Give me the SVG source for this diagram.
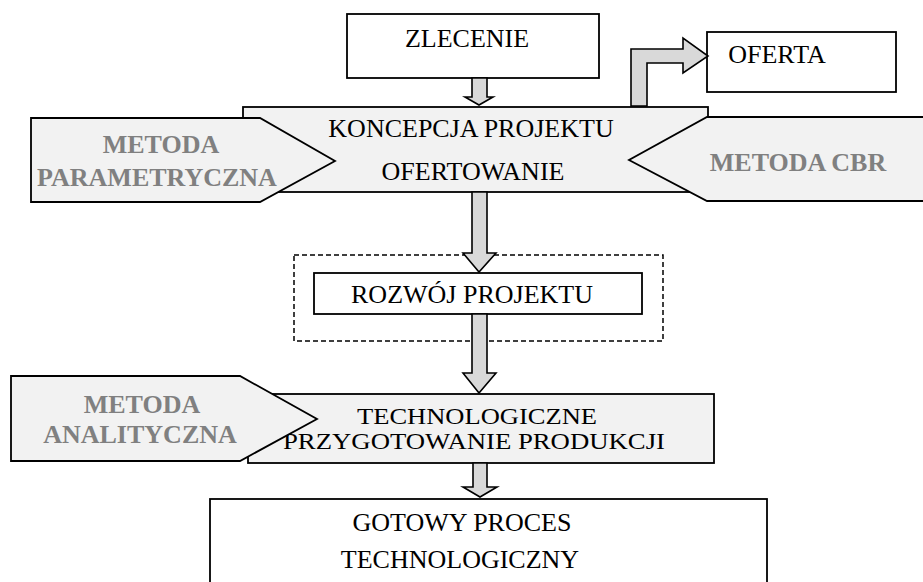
<svg xmlns="http://www.w3.org/2000/svg" width="923" height="582" viewBox="0 0 923 582">
<style>
.box{fill:#ffffff;stroke:#000;stroke-width:1.8}
.gbox{fill:#f2f2f2;stroke:#000;stroke-width:1.8}
.dash{fill:none;stroke:#000;stroke-width:1.5;stroke-dasharray:5,3}
.arr{fill:#d9d9d9;stroke:#000;stroke-width:1.6;stroke-linejoin:miter}
.t{font-family:"Liberation Serif","Times New Roman",serif;font-size:26px;fill:#000;text-anchor:middle}
.s{font-size:24px}
.m{font-family:"Liberation Serif","Times New Roman",serif;font-size:26px;font-weight:bold;fill:#808080;text-anchor:middle}
</style>
<rect width="923" height="582" fill="#ffffff"/>
<g id="zlecenie">
<rect class="box" x="347" y="14" width="252" height="64"/>
<text class="t" x="467" y="47">ZLECENIE</text>
</g>
<g id="oferta">
<rect class="box" x="707" y="32" width="189" height="60"/>
<text class="t" x="777" y="63">OFERTA</text>
</g>
<g id="koncepcja">
<rect class="gbox" x="243" y="107" width="465" height="85"/>
<text class="t" x="471" y="137">KONCEPCJA PROJEKTU</text>
<text class="t" x="473" y="180">OFERTOWANIE</text>
</g>
<g id="metoda-parametryczna">
<polygon class="gbox" points="31,118 260,118 335,161 260,202 31,202"/>
<text class="m" x="161" y="153">METODA</text>
<text class="m" x="157" y="186">PARAMETRYCZNA</text>
</g>
<g id="metoda-cbr">
<polygon class="gbox" points="930,117 707,117 629,160 707,201 930,201"/>
<text class="m" x="798" y="171">METODA CBR</text>
</g>
<g id="rozwoj">
<rect class="dash" x="294" y="255" width="369" height="86"/>
<rect class="box" x="314" y="273" width="328" height="41"/>
<text class="t" x="472" y="303">ROZWÓJ PROJEKTU</text>
</g>
<g id="technologiczne">
<rect class="gbox" x="248" y="394" width="466" height="69"/>
<text class="t s" x="477" y="424" textLength="240" lengthAdjust="spacingAndGlyphs">TECHNOLOGICZNE</text>
<text class="t s" x="474" y="449" textLength="382" lengthAdjust="spacingAndGlyphs">PRZYGOTOWANIE PRODUKCJI</text>
</g>
<g id="metoda-analityczna">
<polygon class="gbox" points="11,376 240,376 317,419 240,461 11,461"/>
<text class="m" x="142" y="413">METODA</text>
<text class="m" x="140" y="443">ANALITYCZNA</text>
</g>
<g id="gotowy">
<rect class="box" x="210" y="499" width="557" height="90"/>
<text class="t" x="462" y="531">GOTOWY PROCES</text>
<text class="t" x="460" y="568">TECHNOLOGICZNY</text>
</g>
<g id="connectors">
<polygon class="arr" points="472,78 487,78 487,97 493,97 479,105 465,97 472,97"/>
<polygon class="arr" points="631,106 631,49 683,49 683,38 708,56 683,73 683,63 647,63 647,106"/>
<polygon class="arr" points="472,192 487,192 487,253 496,253 479,272 463,253 472,253"/>
<polygon class="arr" points="472,314 487,314 487,373 496,373 479,393 463,373 472,373"/>
<polygon class="arr" points="473,463 487,463 487,487 497,487 480,497 463,487 473,487"/>
</g>
</svg>
